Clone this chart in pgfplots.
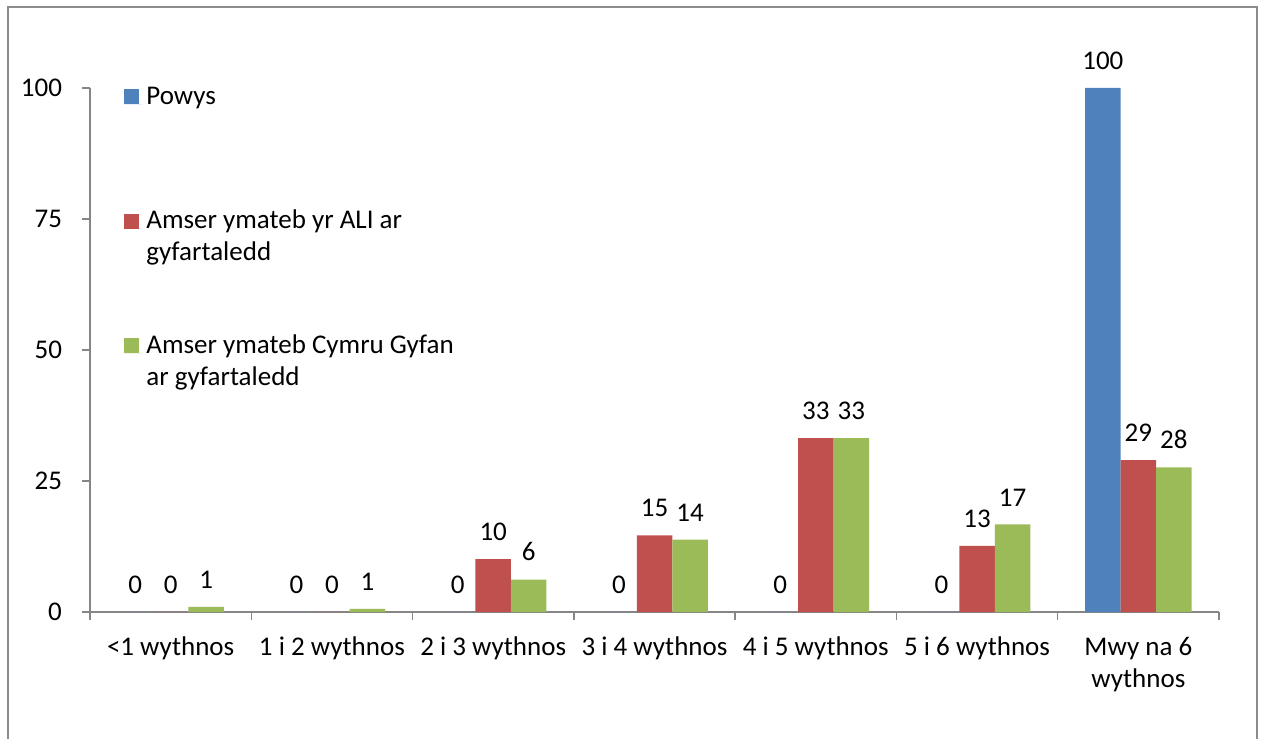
\documentclass[border=0pt]{standalone}
\usepackage{fontspec}
\setmainfont{Carlito}
\usepackage{pgfplots}
\pgfplotsset{compat=1.18}
\definecolor{cblue}{HTML}{4F81BD}
\definecolor{cred}{HTML}{C0504D}
\definecolor{cgreen}{HTML}{9BBB59}
\definecolor{axisgray}{HTML}{868686}
\definecolor{framegray}{HTML}{8C8C8C}
\pgfplotsset{/pgf/number format/assume math mode=true}
\newcommand{\cf}{\fontsize{13.5}{16}\selectfont}
\newcommand{\twol}[2]{\begin{tabular}[t]{@{}l@{}}#1\\#2\end{tabular}}
\begin{document}
\begin{tikzpicture}
\useasboundingbox (0,0) rectangle (631pt,369pt);
\clip (0,0) rectangle (631pt,369pt);
\draw[framegray, line width=0.8pt] (4pt,-10pt) rectangle (628.5pt,365.5pt);
\begin{axis}[
  at={(45pt,63pt)}, anchor=south west,
  scale only axis, width=564.5pt, height=262pt,
  xmin=-0.5, xmax=6.5, ymin=0, ymax=100,
  axis x line*=bottom, axis y line*=left,
  axis line style={draw=axisgray, line width=0.7pt},
  tick style={draw=axisgray, line width=0.7pt},
  tick align=outside, major tick length=4pt, minor tick length=4pt,
  ytick={0,25,50,75,100},
  xtick={0,...,6},
  major x tick style={draw=none},
  minor xtick={-0.5,0.5,...,6.5},
  xticklabels={{<1 wythnos},{1 i 2 wythnos},{2 i 3 wythnos},{3 i 4 wythnos},{4 i 5 wythnos},{5 i 6 wythnos},{Mwy na 6\\wythnos}},
  xticklabel style={align=center, font=\cf, yshift=-5pt},
  yticklabel style={font=\cf, xshift=-6.5pt},
  ybar=0pt, bar width=17.75pt,
  nodes near coords={\pgfmathprintnumber[fixed,precision=0]{\pgfplotspointmeta}},
  nodes near coords style={font=\cf, anchor=south, inner sep=0pt, yshift=9pt},
  legend style={at={(axis description cs:0.0301,1.0)}, anchor=north west, yshift=5.2pt,
    draw=none, fill=none,
    font=\cf, row sep=45.5pt, inner sep=0pt,
    cells={anchor=base west, inner ysep=0pt}},
  legend image code/.code={\fill[#1,draw=none] (0pt,0pt) rectangle (7.2pt,7.5pt);
    \path (0pt,0pt) -- (9pt,0pt);},
]
\addplot[fill=cblue, draw=none] coordinates {(0,0) (1,0) (2,0) (3,0) (4,0) (5,0) (6,100)};
\addlegendentry{\twol{Powys}{}}
\addplot[fill=cred, draw=none] coordinates {(0,0) (1,0) (2,10.1) (3,14.6) (4,33.2) (5,12.6) (6,29.0)};
\addlegendentry{\twol{Amser ymateb yr ALI ar}{gyfartaledd}}
\addplot[fill=cgreen, draw=none] coordinates {(0,1.0) (1,0.6) (2,6.2) (3,13.8) (4,33.2) (5,16.7) (6,27.6)};
\addlegendentry{\twol{Amser ymateb Cymru Gyfan}{ar gyfartaledd}}
\end{axis}
\end{tikzpicture}
\end{document}
